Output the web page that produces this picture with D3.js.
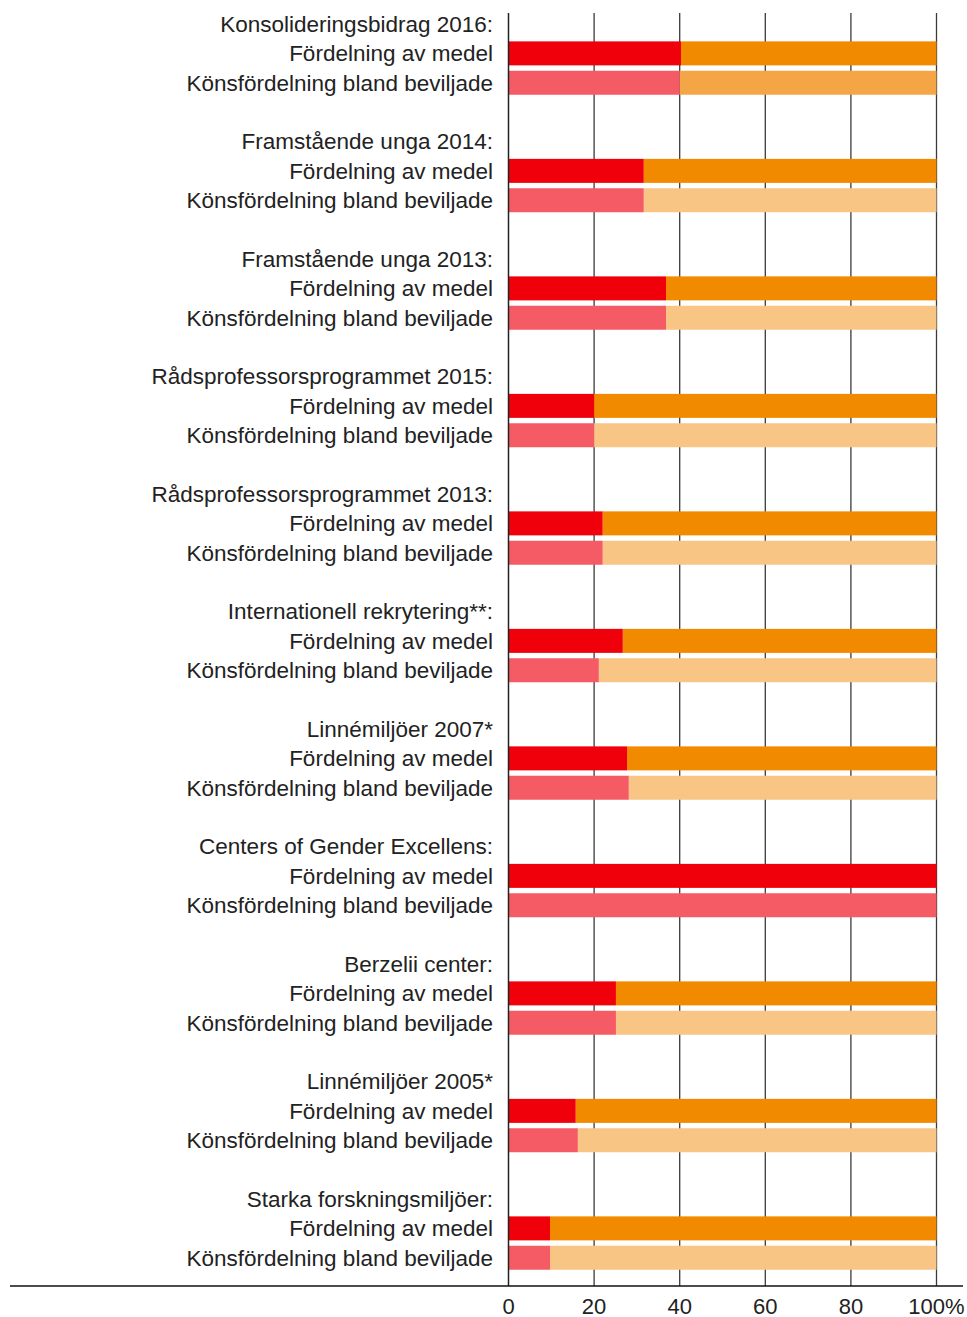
<!DOCTYPE html>
<html>
<head>
<meta charset="utf-8">
<script src="https://cdn.jsdelivr.net/npm/d3@7"></script>
<style>
  body { margin: 0; background: #fff; }
  text { font-family: "Liberation Sans", Arial, sans-serif; fill: #222; }
</style>
</head>
<body>
<div id="chart"></div>
<script>
var groups = ["Konsolideringsbidrag 2016:", "Framstående unga 2014:", "Framstående unga 2013:",
  "Rådsprofessorsprogrammet 2015:", "Rådsprofessorsprogrammet 2013:", "Internationell rekrytering**:",
  "Linnémiljöer 2007*", "Centers of Gender Excellens:", "Berzelii center:", "Linnémiljöer 2005*",
  "Starka forskningsmiljöer:"];
var rowLabels = ["Fördelning av medel", "Könsfördelning bland beviljade"];
// share to women (%) - rest is men
var womenFunds   = [40.3, 31.6, 36.8, 20.0, 22.0, 26.7, 27.7, 100, 25.1, 15.7, 9.7];
var womenGranted = [40.0, 31.6, 36.8, 20.0, 22.0, 21.1, 28.1, 100, 25.1, 16.2, 9.7];
var tickValues = [0, 20, 40, 60, 80, 100];

var width = 967, height = 1317;
var svg = d3.select("#chart").append("svg")
    .attr("width", width)
    .attr("height", height);

var x = d3.scaleLinear().domain([0, 100]).range([508.5, 936.5]);
// 4 rows per group: title, bar, bar, gap
var yRow = d3.scaleLinear().domain([0, 42]).range([24, 24 + 42 * 29.375]);
var barH = 24;
var gridTop = 13, axisY = 1286;
var fs = 22.5;

// grid
svg.selectAll(".grid").data(tickValues.slice(1)).enter().append("line")
    .attr("x1", function(d){ return x(d); })
    .attr("x2", function(d){ return x(d); })
    .attr("y1", gridTop).attr("y2", axisY)
    .attr("stroke", "#3a3a3a")
    .attr("stroke-width", 1.3);

var rows = [];
groups.forEach(function(g, i){
  rows.push({ g: i, k: 0, v: womenFunds[i] });
  rows.push({ g: i, k: 1, v: womenGranted[i] });
});

var colWomen = ["#F0000A", "#F55B65"];
var colMen = ["#F28A00", "#F8C585"];

var bars = svg.selectAll(".row").data(rows).enter().append("g")
    .attr("transform", function(d){ return "translate(0," + (yRow(d.g * 4 + 1 + d.k) - barH / 2) + ")"; });
bars.append("rect")
    .attr("x", function(d){ return x(d.v); })
    .attr("width", function(d){ return x(100) - x(d.v); })
    .attr("height", barH)
    .attr("fill", function(d){ return (d.k == 1 && d.g == 0) ? "#F4A646" : colMen[d.k]; });
bars.append("rect")
    .attr("x", x(0))
    .attr("width", function(d){ return x(d.v) - x(0); })
    .attr("height", barH)
    .attr("fill", function(d){ return colWomen[d.k]; });

// labels
svg.selectAll(".title").data(groups).enter().append("text")
    .attr("x", 493)
    .attr("y", function(d, i){ return yRow(i * 4); })
    .attr("dy", "0.35em")
    .attr("text-anchor", "end")
    .attr("font-size", fs)
    .text(function(d){ return d; });
bars.append("text")
    .attr("x", 493)
    .attr("y", barH / 2)
    .attr("dy", "0.35em")
    .attr("text-anchor", "end")
    .attr("font-size", fs)
    .text(function(d){ return rowLabels[d.k]; });

// zero line
svg.append("line")
    .attr("x1", x(0)).attr("x2", x(0))
    .attr("y1", gridTop).attr("y2", axisY)
    .attr("stroke", "#222").attr("stroke-width", 1.5);

// bottom axis
svg.append("line")
    .attr("x1", 10).attr("x2", 963)
    .attr("y1", axisY).attr("y2", axisY)
    .attr("stroke", "#111").attr("stroke-width", 1.3);
svg.selectAll(".tick").data(tickValues).enter().append("text")
    .attr("x", function(d){ return x(d); })
    .attr("y", 1306)
    .attr("dy", "0.35em")
    .attr("text-anchor", "middle")
    .attr("font-size", 22)
    .text(function(d){ return d == 100 ? "100%" : d; });
</script>
</body>
</html>
